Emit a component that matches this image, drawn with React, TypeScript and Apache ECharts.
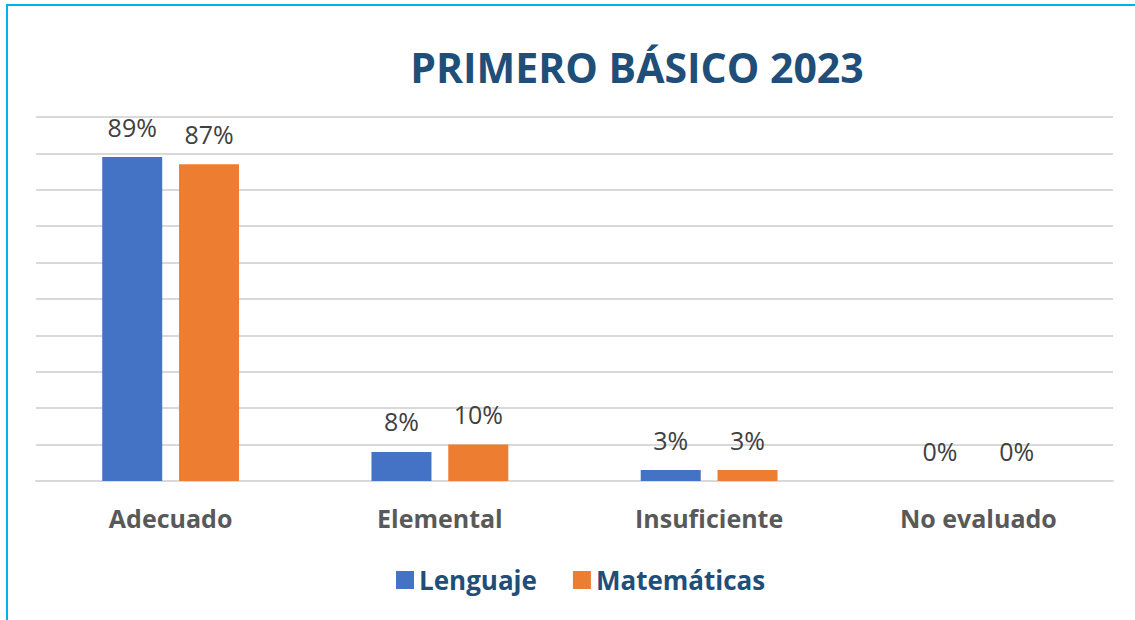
import React, { useEffect, useRef } from "react";
import * as echarts from "echarts";

const titleText = "PRIMERO BÁSICO 2023";
const categories = ["Adecuado", "Elemental", "Insuficiente", "No evaluado"];
const seriesNames = ["Lenguaje", "Matemáticas"];
const lenguaje = [89, 8, 3, 0];
const matematicas = [87, 10, 3, 0];
const colors = ["#4472C4", "#ED7D31"];

export default function App() {
  const ref = useRef<HTMLDivElement>(null);
  useEffect(() => {
    document.body.style.margin = "0";
    const chart = echarts.init(ref.current!, undefined, { renderer: "svg" });
    const font = "'Open Sans', 'Noto Sans', sans-serif";
    const label = {
      show: true,
      position: "top" as const,
      distance: 18,
      formatter: "{c}%",
      color: "#404040",
      fontSize: 25,
      fontFamily: font,
    };
    chart.setOption({
      animation: false,
      backgroundColor: "#ffffff",
      title: {
        text: titleText,
        left: 632,
        textAlign: "center",
        top: 41,
        textStyle: { color: "#1F4E79", fontSize: 41, fontWeight: "bold", fontFamily: font },
      },
      graphic: [
        {
          type: "rect",
          shape: { x: 7, y: 5, width: 1300, height: 800 },
          style: { fill: "none", stroke: "#00B0F0", lineWidth: 2 },
          silent: true,
        },
      ],
      legend: {
        data: seriesNames,
        left: 391,
        top: 562,
        itemWidth: 18,
        itemHeight: 18,
        itemGap: 36,
        icon: "rect",
        textStyle: { color: "#1F4E79", fontSize: 26, fontWeight: "bold", fontFamily: font, padding: [0, 0, 0, 0] },
      },
      grid: { left: 36, right: 22, top: 117, bottom: 139 },
      xAxis: {
        type: "category",
        data: categories,
        axisLine: { lineStyle: { color: "#D9D9D9", width: 2 } },
        axisTick: { show: false },
        axisLabel: { color: "#595959", fontSize: 25, fontWeight: "bold", fontFamily: font, margin: 24 },
      },
      yAxis: {
        type: "value",
        min: 0,
        max: 100,
        interval: 10,
        axisLabel: { show: false },
        axisLine: { show: false },
        axisTick: { show: false },
        splitLine: { lineStyle: { color: "#D9D9D9", width: 2 } },
      },
      series: [
        {
          name: seriesNames[0],
          type: "bar",
          data: lenguaje,
          barWidth: 60,
          barGap: "28%",
          itemStyle: { color: colors[0] },
          label,
        },
        {
          name: seriesNames[1],
          type: "bar",
          data: matematicas,
          barWidth: 60,
          barGap: "28%",
          itemStyle: { color: colors[1] },
          label,
        },
      ],
    });
    return () => chart.dispose();
  }, []);
  return <div ref={ref} style={{ position: "fixed", left: 0, top: 0, width: 1135, height: 620 }} />;
}
